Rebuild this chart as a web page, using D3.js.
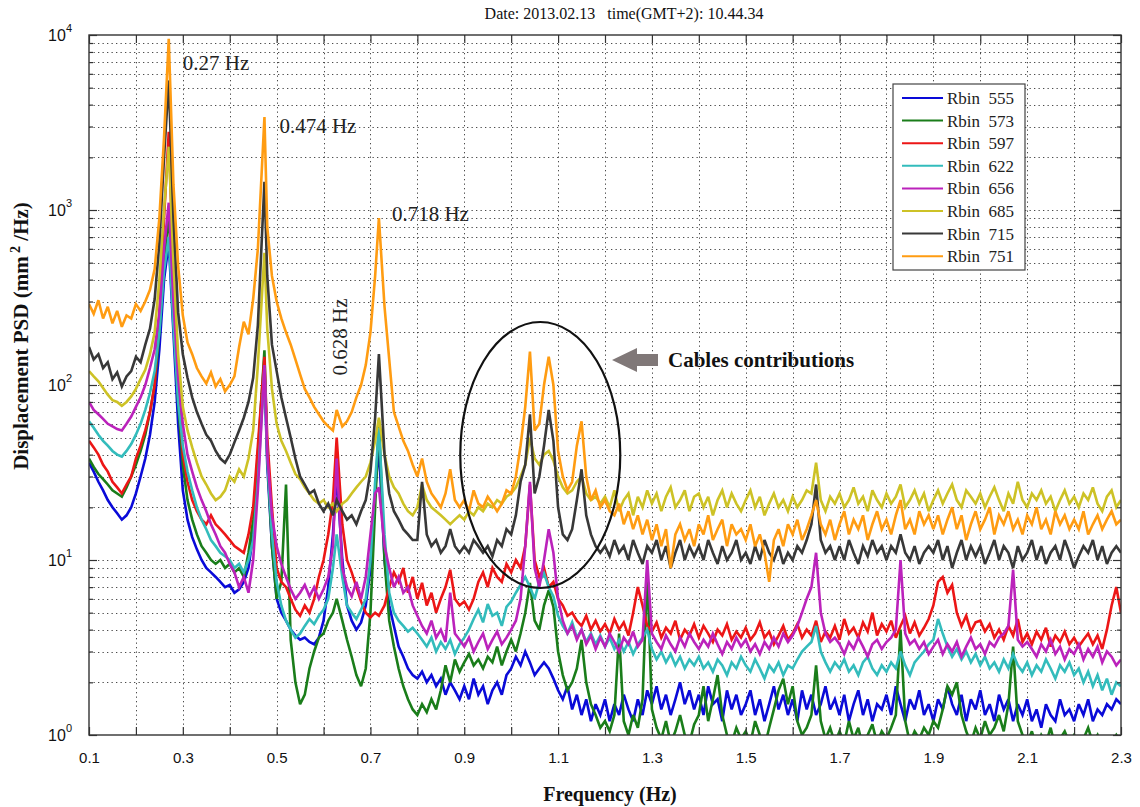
<!DOCTYPE html>
<html>
<head>
<meta charset="utf-8">
<script src="https://cdn.jsdelivr.net/npm/d3@7"></script>
<style>
  html, body { margin: 0; padding: 0; background: #fff; }
  svg { display: block; }
  text { white-space: pre; }
</style>
</head>
<body>
<svg id="chart" width="1140" height="807"></svg>
<script>
// Frequency samples (Hz)
const freqs = [
  0.10,0.11,0.12,0.13,0.14,0.15,0.16,0.17,0.18,0.19,
  0.20,0.21,0.22,0.23,0.24,0.25,0.26,0.27,0.28,0.29,
  0.30,0.31,0.32,0.33,0.34,0.35,0.36,0.37,0.38,0.39,
  0.40,0.41,0.42,0.43,0.44,0.45,0.46,0.474,0.48,0.49,
  0.50,0.51,0.52,0.53,0.54,0.55,0.56,0.57,0.58,0.59,
  0.60,0.61,0.62,0.628,0.64,0.65,0.66,0.67,0.68,0.69,
  0.70,0.71,0.718,0.73,0.74,0.75,0.76,0.77,0.78,0.79,
  0.80,0.81,0.82,0.83,0.84,0.85,0.86,0.87,0.88,0.89,
  0.90,0.91,0.92,0.93,0.94,0.95,0.96,0.97,0.98,0.99,
  1.00,1.01,1.02,1.03,1.04,1.05,1.06,1.07,1.08,1.09,
  1.10,1.11,1.12,1.13,1.14,1.15,1.16,1.17,1.18,1.19,
  1.20,1.21,1.22,1.23,1.24,1.25,1.26,1.27,1.28,1.29,
  1.30,1.31,1.32,1.33,1.34,1.35,1.36,1.37,1.38,1.39,
  1.40,1.41,1.42,1.43,1.44,1.45,1.46,1.47,1.48,1.49,
  1.50,1.51,1.52,1.53,1.54,1.55,1.56,1.57,1.58,1.59,
  1.60,1.61,1.62,1.63,1.64,1.65,1.66,1.67,1.68,1.69,
  1.70,1.71,1.72,1.73,1.74,1.75,1.76,1.77,1.78,1.79,
  1.80,1.81,1.82,1.83,1.84,1.85,1.86,1.87,1.88,1.89,
  1.90,1.91,1.92,1.93,1.94,1.95,1.96,1.97,1.98,1.99,
  2.00,2.01,2.02,2.03,2.04,2.05,2.06,2.07,2.08,2.09,
  2.10,2.11,2.12,2.13,2.14,2.15,2.16,2.17,2.18,2.19,
  2.20,2.21,2.22,2.23,2.24,2.25,2.26,2.27,2.28,2.29,
  2.30
];

// Displacement PSD (mm^2/Hz) per range bin
const rbin555 = [
  36,32,28,25,22,20,18.5,17,18,20,
  24,30,38,52,80,160,400,650,200,60,
  25,17,13.5,11.5,10,9,8.5,8,7.5,7,
  7.2,6.5,6.8,7.5,9,14,35,120,35,12,
  6,5,4.5,4,3.7,3.5,3.6,3.4,3.3,3.6,
  4.5,7,14,31,10,5.5,4.5,4,4.4,5.5,
  9,25,44,10,5.5,4.2,3.2,2.8,2.4,2.2,
  2.1,2.3,2,2.2,1.9,2.1,1.7,2,1.8,1.6,
  1.9,1.6,2.1,1.7,1.9,1.5,1.8,2,1.7,2.2,
  2.4,2.8,2.5,3,2.6,2.2,2.4,2.6,2.4,2.1,
  1.8,1.6,1.9,1.4,1.7,1.3,1.6,1.2,1.5,1.3,
  1.6,1.2,1.5,1.3,1.7,1.4,1.2,1.6,1.3,1.8,
  1.5,1.9,1.4,1.7,1.3,1.6,2,1.5,1.8,1.4,
  1.7,1.3,1.9,1.5,1.6,1.2,1.8,1.4,1.7,1.3,
  1.5,1.8,1.3,1.6,1.2,1.5,1.9,1.4,1.7,1.3,
  1.6,1.2,1.8,1.4,1.7,1.3,1.5,1.9,1.4,1.6,
  1.3,1.7,1.2,1.5,1.8,1.3,1.6,1.2,1.5,1.4,
  1.7,1.3,1.9,1.5,1.2,1.6,1.4,1.8,1.3,1.5,
  1.2,1.6,1.4,1.9,1.5,1.3,1.7,1.2,1.6,1.4,
  1.8,1.3,1.5,1.2,1.7,1.4,1.6,1.2,1.5,1.3,
  1.6,1.2,1.4,1.1,1.5,1.3,1.2,1.6,1.3,1.4,
  1.2,1.5,1.3,1.6,1.2,1.4,1.3,1.5,1.4,1.6,
  1.5
];
const rbin573 = [
  38,34,31,29,27,25,24,23,26,30,
  35,42,52,70,100,200,500,950,250,80,
  35,22,17,14,12,11,10,9.5,10,9,
  9.5,8.5,9,8,11,17,40,158,40,12,
  6,7.5,27,3.5,2,1.5,1.7,2.4,3,3.6,
  3.8,4.5,5,6,4.5,3.5,2.8,2.2,1.9,2.4,
  5,20,63,10,4.5,3.2,2.4,1.9,1.6,1.4,
  1.3,1.5,1.35,1.6,1.4,1.8,2.5,2,2.7,2.3,
  2.6,2.9,2.5,2.7,2.4,2.8,2.6,3.2,2.5,3,
  3.5,3,3.8,5,7.4,4.5,4,5.5,6.7,5.4,
  3,2.2,1.8,2,2.4,3.5,2,1.5,1.3,1.1,
  1.2,1.05,1.3,3.8,1.2,1,1.3,1.1,1.6,8.5,
  1.4,1.1,0.95,1.2,0.9,1.05,1.3,1,0.9,1.15,
  1.3,1.9,1.2,1.6,2.2,1.3,1,0.9,1.1,0.95,
  1.05,0.9,1.2,1,0.85,1.1,1.4,1.8,2.1,1.5,
  1.9,1.2,1,1.1,1.3,2.5,1.2,0.95,1.1,0.9,
  1.05,0.9,1.2,0.95,1.1,0.85,1,1.15,0.9,1.05,
  0.95,1.1,1.3,4,1.2,0.9,1.05,0.95,1.1,1,
  1.2,1.1,1.4,1.9,1.7,2,1.3,1.05,0.9,1.1,
  0.95,1.2,1,1.1,1.3,1.05,1.5,3.2,1.2,1,
  0.9,1.05,0.85,1,0.9,1.1,0.85,0.95,1.05,0.9,
  1,0.85,0.95,1.1,0.9,1,0.85,0.95,0.9,1,
  0.9
];
const rbin597 = [
  48,44,40,35,32,28,26,24,27,30,
  38,45,55,70,100,250,900,2800,400,100,
  40,28,22,19,17,16,18,16,15,14,
  13,12,11.5,11,14,20,45,145,50,20,
  9,7.5,7,6,5.2,4.8,5.5,5,6,8,
  10,14,22,50,16,10,8.5,7,5.8,5,
  4.7,5,4.8,5.5,7,8.5,7.5,9,6.5,8,
  6,7.4,5.5,6.5,5,6,7,8.8,6,5.5,
  5.8,5.2,6,7.5,8.5,7,9,8,7.5,9.5,
  8.5,10,9,12,27,10,8,9,7,7.5,
  6,5.5,4.8,5,4.5,4.2,4.8,4,4.5,3.9,
  4.3,3.8,4.6,4,4.4,3.7,5,7,5.5,4.2,
  3.9,4.4,3.6,4.1,3.8,4.5,3.5,4,3.7,4.3,
  3.6,4.2,3.8,3.4,4,3.7,4.3,3.5,3.9,3.6,
  4.1,3.5,3.8,4.4,3.6,3.9,3.3,3.7,4.2,3.5,
  3.8,4.3,3.6,4,3.7,4.5,3.4,3.9,3.6,4.2,
  3.5,4.6,3.8,4.1,3.6,4.4,3.9,5,3.7,4.3,
  3.9,4.5,3.6,4.2,4.8,3.8,4.4,3.7,4.1,4.6,
  5.5,7.5,8,6.5,7.2,5,4.2,4.8,3.9,4.4,
  4.5,3.9,4.3,3.6,4,3.5,4.2,3.7,4.6,3.4,
  3.8,3.3,3.9,3.5,4.1,3.2,3.7,3.4,3.9,3.3,
  3.6,3.2,3.5,3.8,3.3,3.7,3.1,4,5.5,7,
  5
];
const rbin622 = [
  62,57,52,48,45,42,40,39,42,46,
  52,60,72,90,120,200,450,700,220,80,
  45,32,25,20,17,15,13,12,11,10.5,
  10,9,9.5,8.5,10,13,28,125,38,14,
  7.5,5.5,4.5,4,3.6,3.8,4.2,4.6,4.3,4.8,
  5.2,6,9,14,8,5.5,5,4.6,5.2,6,
  10,28,57,14,6.5,5,4.5,4.2,3.9,4.1,
  3.8,3.5,3.2,3.6,3,3.4,3.1,3.5,2.9,3.3,
  3.6,4,4.6,5.2,4.4,5.6,4.8,5,4.2,5.4,
  5.8,6.5,7.2,8,7,6,7.5,8.4,7,6.2,
  4.8,4.2,3.8,4.4,3.6,4,3.4,3.8,3.3,3.7,
  3.2,3.6,3.1,3.5,3,3.4,2.9,3.3,3.6,4,
  3.1,2.7,3,2.6,2.9,2.5,2.8,2.4,2.7,2.5,
  2.8,2.4,2.6,2.3,2.7,2.5,2.2,2.6,2.4,2.8,
  2.5,2.3,2.7,2.4,2.1,2.5,2.3,2.6,2.2,2.5,
  2.4,2.7,3,3.2,3.4,4.2,3,2.6,2.3,2.6,
  2.4,2.7,2.3,2.5,2.2,2.6,2.8,2.4,2.2,2.5,
  2.3,2.6,2.4,3,2.5,2.2,2.6,2.8,3,3.3,
  3.5,4.6,3.8,3.2,2.8,3.1,2.7,3,2.6,2.9,
  2.5,2.8,2.4,2.6,2.3,2.7,2.4,2.9,2.5,2.3,
  2.6,2.2,2.5,2.3,2.7,2.4,2.1,2.5,2.3,2.6,
  2.2,2.4,2,2.3,1.9,2.2,1.8,2.1,1.7,2,
  1.9
];
const rbin656 = [
  80,72,68,64,60,58,56,55,60,66,
  75,85,100,125,160,260,600,1100,300,110,
  60,40,32,26,22,19,16,14,12,11,
  9.5,8.5,7,8,6.5,10,25,130,40,18,
  12,9.5,8,6.8,6,6.5,7.2,6.2,7,6,
  6.8,8,12,38,9,7,6.2,7.5,6,8,
  14,24,26,12,9,7,8,6.5,7,5.5,
  4.8,4.2,3.8,4.5,3.6,4,3.4,6.5,3.8,3.5,
  3.2,3.6,3,3.4,3.8,3.1,3.5,3.9,3.3,3.6,
  4,4.5,6,12,28,9,7,10,15,11,
  6,4.5,3.8,4.2,3.5,4,3.3,3.7,3.1,3.6,
  3.2,3.8,3.4,3,3.6,3.3,3.9,3.2,3.5,10,
  3.8,3.4,3.1,3.7,3.3,3,3.6,3.2,3.8,3.4,
  3.1,3.5,3.2,3.8,3.3,2.9,3.4,3.1,3.6,3.2,
  3.5,3,3.3,2.9,3.4,3.1,3.6,3.2,3.8,3.4,
  3.7,4.2,5,6,7,11,5,3.8,3.4,3.6,
  3.3,2.9,3.4,3.1,3.6,3.2,2.8,3.3,3.5,3.1,
  3.4,3.6,4,10,3.8,3.3,3.5,3.1,3.4,2.9,
  3.2,3.5,2.9,3.3,3,3.4,2.8,3.2,3.6,3.1,
  3.3,2.9,3.4,3.2,3.6,3.8,4.2,8.8,3.5,3.2,
  3.4,3.1,2.8,3.3,3,3.5,2.9,3.2,2.7,3.1,
  2.9,3.3,2.7,3.1,2.8,3.2,2.6,3,2.8,2.5,
  2.7
];
const rbin685 = [
  120,112,105,96,88,82,80,76,80,86,
  95,108,122,150,200,400,1000,2300,500,150,
  75,55,44,36,30,27,24,22,23,25,
  30,28,33,30,38,55,130,570,210,95,
  60,48,42,36,31,29,26,24,22,21,
  22,20,21,19,21,22,24,26,28,30,
  36,48,65,40,30,26,24,21,19,18,
  20,27,22,20,19,18,17,16,17,18,
  17,19,18,20,19,21,20,22,21,23,
  24,26,30,35,50,38,35,40,42,37,
  30,26,24,25,28,30,24,22,23,21,
  23,20,25,19,22,24,18,23,20,25,
  21,24,19,23,26,20,22,25,19,23,
  24,20,23,18,22,25,20,24,21,19,
  22,25,20,23,18,21,24,20,22,19,
  23,20,22,25,24,36,22,19,23,21,
  24,20,22,26,21,23,19,25,22,20,
  24,21,23,27,20,22,25,21,24,19,
  22,25,21,24,27,22,20,25,23,21,
  24,20,23,26,22,19,24,21,28,22,
  20,24,22,25,21,23,19,22,25,21,
  23,20,24,22,26,21,19,23,25,20,
  22
];
const rbin715 = [
  165,140,150,125,135,108,118,98,112,120,
  145,135,170,210,310,650,2000,5500,900,260,
  150,110,85,70,60,52,48,42,38,36,
  40,47,55,65,80,110,220,1450,420,170,
  120,85,65,50,38,30,27,24,25,21,
  19,21,18,22,19,17,18,16,19,22,
  32,65,150,40,24,19,17,15,14,13,
  13,28,14,12,13,11,12,15,12,11,
  12,11,13,12,11,12,10.5,13,12,15,
  14,18,28,35,68,24,30,45,72,48,
  20,14,13,15,22,33,18,14,12,11,
  12,10.5,13,11,12,10,13,11,9.5,12,
  11,13,10,12,9,11,13,10,12,10.5,
  12,10,13,11,9.5,12,10,11,13,10,
  11,9.5,12,10,13,11,10,12,9.5,11,
  10,12,11,13,16,27,13,11,12,10,
  12,10,13,11,9.5,12,10.5,13,11,12,
  10,12,11,14,11,10,12,9.5,11,12,
  11,13,10,12,9,11,13,10,12,10.5,
  12,9.5,11,13,10,12,11,9,12,10,
  11,13,10,12,9.5,11,12,10,13,11,
  9,10.5,12,11,13,10,12,9.5,11,12,
  11
];
const rbin751 = [
  290,255,305,240,280,225,265,215,250,240,
  290,265,300,350,460,900,2600,9500,1400,480,
  250,175,150,125,112,102,118,98,108,92,
  100,112,165,230,195,310,600,3400,800,420,
  300,240,200,170,140,115,95,85,75,68,
  62,58,55,72,58,62,70,85,100,130,
  200,420,900,280,140,70,58,48,42,35,
  30,38,28,24,22,20,24,33,22,20,
  22,19,25,21,20,23,21,19,21,25,
  24,30,45,75,155,55,60,100,145,100,
  42,30,25,28,45,62,30,22,25,20,
  22,19,18,21,16,19,15,18,14,17,
  13,16,12,15,9,14,16,13,15,12,
  16,14,18,13,15,17,12,16,14,15,
  13,16,12,14,11,7.5,13,15,12,16,
  14,17,13,15,18,22,16,14,17,13,
  16,19,14,17,15,18,13,16,19,15,
  17,14,18,22,15,17,14,19,16,18,
  15,18,14,17,20,15,18,13,16,19,
  15,17,20,14,18,16,19,15,17,14,
  18,16,20,15,17,14,19,16,18,15,
  17,15,19,14,16,18,15,17,19,16,
  17
];

const seriesNames = ["Rbin  555", "Rbin  573", "Rbin  597", "Rbin  622",
                     "Rbin  656", "Rbin  685", "Rbin  715", "Rbin  751"];
const seriesValues = [rbin555, rbin573, rbin597, rbin622, rbin656, rbin685, rbin715, rbin751];
const seriesColors = ["#0a0ad8", "#1a7d1a", "#ec1616", "#33bcbc", "#bb22bb", "#cdc226", "#383838", "#ff9c12"];

const xTickLabels = [0.1, 0.3, 0.5, 0.7, 0.9, 1.1, 1.3, 1.5, 1.7, 1.9, 2.1, 2.3];
const yDecadeExponents = [0, 1, 2, 3, 4];

// Labelled resonance peaks (Hz)
const peakNotes = [
  { f: 0.27,  text: "0.27 Hz" },
  { f: 0.474, text: "0.474 Hz" },
  { f: 0.718, text: "0.718 Hz" }
];
const sidewaysNote = { f: 0.628, text: "0.628 Hz" };

const titleText = "Date: 2013.02.13   time(GMT+2): 10.44.34";

// ---------- layout ----------
const W = 1140, H = 807;
const plot = { left: 89, right: 1121, top: 35, bottom: 735 };
const serif = "'Liberation Serif', 'Times New Roman', serif";
const sans = "'Liberation Sans', Arial, sans-serif";

const x = d3.scaleLinear().domain([0.1, 2.3]).range([plot.left, plot.right]);
const y = d3.scaleLog().domain([1, 1e4]).range([plot.bottom, plot.top]);

const svg = d3.select("#chart");
svg.append("rect").attr("width", W).attr("height", H).attr("fill", "#fff");

svg.append("defs").append("clipPath").attr("id", "plot-clip")
  .append("rect")
  .attr("x", plot.left).attr("y", plot.top)
  .attr("width", plot.right - plot.left).attr("height", plot.bottom - plot.top);

// ---------- grid ----------
const xGridTicks = x.ticks(22).filter(d => d > 0.1001 && d < 2.2999);
const yAllTicks = y.ticks().filter(d => d > 1 && d < 1e4);
const yMajor = yDecadeExponents.map(e => Math.pow(10, e));
const yMinor = y.ticks().filter(d => !yMajor.some(m => Math.abs(m - d) < 1e-9));

const grid = svg.append("g").attr("stroke", "#4a4a4a").attr("stroke-width", 1)
  .attr("stroke-dasharray", "1.3,3.2").attr("fill", "none");
grid.selectAll("line.v").data(xGridTicks).join("line")
  .attr("class", "v")
  .attr("x1", d => Math.round(x(d)) + 0.5).attr("x2", d => Math.round(x(d)) + 0.5)
  .attr("y1", plot.top).attr("y2", plot.bottom);
grid.selectAll("line.h").data(yAllTicks).join("line")
  .attr("class", "h")
  .attr("x1", plot.left).attr("x2", plot.right)
  .attr("y1", d => Math.round(y(d)) + 0.5).attr("y2", d => Math.round(y(d)) + 0.5);

// ---------- series ----------
const line = d3.line()
  .x((d, i) => x(freqs[i]))
  .y(d => y(d))
  .curve(d3.curveLinear);

const lines = svg.append("g").attr("clip-path", "url(#plot-clip)");
seriesValues.forEach((vals, k) => {
  lines.append("path")
    .datum(vals)
    .attr("d", line)
    .attr("fill", "none")
    .attr("stroke", seriesColors[k])
    .attr("stroke-width", 2.6)
    .attr("stroke-linejoin", "miter")
    .attr("stroke-miterlimit", 3);
});

// ---------- axes ----------
const fmt = d3.format(".1f");
const isLabelled = d => xTickLabels.some(t => Math.abs(t - d) < 1e-6);
const xTicks = x.ticks(22);

const axisStyle = g => {
  g.select(".domain").remove();
  g.selectAll(".tick line").attr("stroke", "#333").attr("stroke-width", 1.2);
  g.selectAll(".tick text").attr("fill", "#111").attr("font-family", sans).attr("font-size", 15);
};

svg.append("g").attr("transform", `translate(0,${plot.bottom})`)
  .call(d3.axisBottom(x).tickValues(xTicks).tickSize(-8).tickPadding(17)
    .tickFormat(d => isLabelled(d) ? fmt(d) : ""))
  .call(axisStyle);
svg.append("g").attr("transform", `translate(0,${plot.top})`)
  .call(d3.axisTop(x).tickValues(xTicks).tickSize(-8).tickFormat(""))
  .call(axisStyle);
svg.append("g").attr("transform", `translate(${plot.left},0)`)
  .call(d3.axisLeft(y).tickValues(yMajor).tickSize(-8).tickFormat(""))
  .call(axisStyle);
svg.append("g").attr("transform", `translate(${plot.left},0)`)
  .call(d3.axisLeft(y).tickValues(yMinor).tickSize(-4).tickFormat(""))
  .call(axisStyle);
svg.append("g").attr("transform", `translate(${plot.right},0)`)
  .call(d3.axisRight(y).tickValues(yMajor).tickSize(-8).tickFormat(""))
  .call(axisStyle);
svg.append("g").attr("transform", `translate(${plot.right},0)`)
  .call(d3.axisRight(y).tickValues(yMinor).tickSize(-4).tickFormat(""))
  .call(axisStyle);

// frame
svg.append("rect")
  .attr("x", plot.left).attr("y", plot.top)
  .attr("width", plot.right - plot.left).attr("height", plot.bottom - plot.top)
  .attr("fill", "none").attr("stroke", "#333").attr("stroke-width", 1.4);

// decade labels 10^n
const yLab = svg.append("g").attr("font-family", sans).attr("fill", "#111");
yDecadeExponents.forEach(e => {
  const t = yLab.append("text")
    .attr("x", plot.left - 17).attr("y", y(Math.pow(10, e)) + 6)
    .attr("text-anchor", "end").attr("font-size", 16);
  t.append("tspan").text("10");
  t.append("tspan").attr("dy", -9).attr("font-size", 11).text(String(e));
});

// ---------- titles ----------
svg.append("text")
  .attr("x", 624).attr("y", 19)
  .attr("text-anchor", "middle")
  .attr("font-family", serif).attr("font-size", 16).attr("fill", "#111")
  .text(titleText);

svg.append("text")
  .attr("x", (plot.left + plot.right) / 2 + 5).attr("y", 801)
  .attr("text-anchor", "middle")
  .attr("font-family", serif).attr("font-size", 20).attr("font-weight", "bold").attr("fill", "#111")
  .text("Frequency (Hz)");

const yTitle = svg.append("text")
  .attr("transform", "translate(28,336) rotate(-90)")
  .attr("text-anchor", "middle")
  .attr("font-family", serif).attr("font-size", 21).attr("font-weight", "bold").attr("fill", "#111");
yTitle.append("tspan").text("Displacement PSD (mm");
yTitle.append("tspan").attr("dy", -8).attr("font-size", 14).text(" 2");
yTitle.append("tspan").attr("dy", 8).text(" /Hz)");

// ---------- peak annotations ----------
const notes = svg.append("g").attr("font-family", serif).attr("font-size", 21).attr("fill", "#222");
const noteOffsets = [[14, 70], [15, 133], [13, 221]];
peakNotes.forEach((p, i) => {
  notes.append("text")
    .attr("x", x(p.f) + noteOffsets[i][0]).attr("y", noteOffsets[i][1])
    .text(p.text);
});
notes.append("text")
  .attr("transform", `translate(${x(sidewaysNote.f) + 10},337) rotate(-90)`)
  .attr("text-anchor", "middle")
  .text(sidewaysNote.text);

// cable contributions highlight
svg.append("ellipse")
  .attr("cx", x(1.062)).attr("cy", 455)
  .attr("rx", 80).attr("ry", 133)
  .attr("fill", "none").attr("stroke", "#111").attr("stroke-width", 2.2);

const ax = 612, ay = 360;
svg.append("polygon")
  .attr("points", [
    [ax, ay], [ax + 25, ay - 12], [ax + 25, ay - 6], [ax + 46, ay - 6],
    [ax + 46, ay + 6], [ax + 25, ay + 6], [ax + 25, ay + 12]
  ].map(p => p.join(",")).join(" "))
  .attr("fill", "#807878");

svg.append("text")
  .attr("x", 668).attr("y", 367)
  .attr("font-family", serif).attr("font-size", 21).attr("font-weight", "bold").attr("fill", "#111")
  .text("Cables contributions");

// ---------- legend ----------
const lg = svg.append("g").attr("transform", "translate(893,84)");
lg.append("rect").attr("width", 132).attr("height", 186)
  .attr("fill", "#fff").attr("stroke", "#444").attr("stroke-width", 1.2);
seriesNames.forEach((name, i) => {
  const row = lg.append("g").attr("transform", `translate(0,${14 + i * 22.6})`);
  row.append("line").attr("x1", 9).attr("x2", 50).attr("y1", 0).attr("y2", 0)
    .attr("stroke", seriesColors[i]).attr("stroke-width", 2);
  row.append("text").attr("x", 54).attr("y", 6)
    .attr("font-family", serif).attr("font-size", 17).attr("fill", "#222")
    .text(name);
});
</script>
</body>
</html>
